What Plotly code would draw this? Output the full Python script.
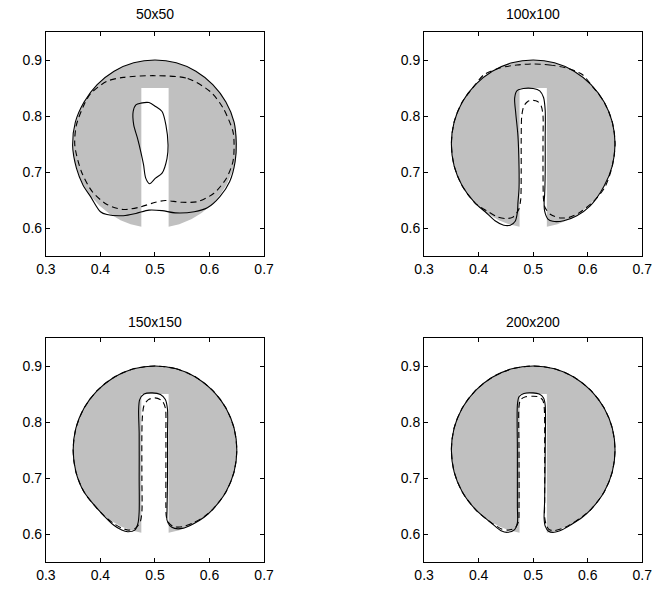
import numpy as np
import plotly.graph_objects as go

# ---------------- data ----------------
TITLES = ["50x50", "100x100", "150x150", "200x200"]
X_TICKS = [0.3, 0.4, 0.5, 0.6, 0.7]
Y_TICKS = [0.6, 0.7, 0.8, 0.9]
X_RANGE = [0.3, 0.7]
Y_RANGE = [0.55, 0.95]

# exact Zalesak disk (grey reference)
DISK_CENTER = (0.5, 0.75)
DISK_RADIUS = 0.15
SLOT_LEFT = 0.475
SLOT_RIGHT = 0.525
SLOT_TOP = 0.85

# contour points (closed curves)
ARC_TOP_RIGHT = [(0.500, 0.900), (0.539, 0.895), (0.575, 0.880), (0.606, 0.856),
                 (0.630, 0.825), (0.645, 0.789), (0.650, 0.750), (0.645, 0.711)]
ARC_LEFT_TOP = [(0.370, 0.675), (0.355, 0.711), (0.350, 0.750), (0.355, 0.789),
                (0.370, 0.825), (0.394, 0.856), (0.425, 0.880), (0.461, 0.895)]

P1_SOLID = [(0.500, 0.900), (0.539, 0.895), (0.575, 0.880), (0.606, 0.856),
            (0.630, 0.825), (0.645, 0.789), (0.649, 0.750), (0.647, 0.719),
            (0.637, 0.683), (0.619, 0.656), (0.596, 0.636), (0.572, 0.629),
            (0.537, 0.627), (0.513, 0.631), (0.489, 0.632), (0.465, 0.626),
            (0.442, 0.622), (0.412, 0.624), (0.400, 0.629), (0.382, 0.656),
            (0.368, 0.677), (0.356, 0.707), (0.349, 0.748), (0.354, 0.789),
            (0.370, 0.825), (0.394, 0.856), (0.425, 0.880), (0.461, 0.895)]
P1_ISLAND = [(0.474, 0.823), (0.489, 0.824), (0.501, 0.817), (0.513, 0.808),
             (0.520, 0.784), (0.524, 0.748), (0.522, 0.724), (0.513, 0.698),
             (0.501, 0.689), (0.490, 0.679), (0.483, 0.689), (0.479, 0.713),
             (0.474, 0.736), (0.468, 0.760), (0.461, 0.784), (0.460, 0.808),
             (0.465, 0.820)]
P1_DASHED = [(0.500, 0.872), (0.560, 0.867), (0.602, 0.843), (0.625, 0.814),
             (0.643, 0.772), (0.645, 0.748), (0.643, 0.719), (0.631, 0.689),
             (0.608, 0.662), (0.578, 0.647), (0.548, 0.646), (0.519, 0.649),
             (0.501, 0.646), (0.471, 0.637), (0.442, 0.633), (0.412, 0.642),
             (0.385, 0.665), (0.365, 0.701), (0.353, 0.748), (0.356, 0.784),
             (0.370, 0.820), (0.382, 0.840), (0.412, 0.862), (0.442, 0.869)]

P2_SOLID = ARC_TOP_RIGHT + [
    (0.630, 0.675), (0.604, 0.639), (0.580, 0.622), (0.556, 0.613), (0.536, 0.612),
    (0.527, 0.616), (0.521, 0.630), (0.520, 0.645), (0.521, 0.660), (0.522, 0.700),
    (0.522, 0.760), (0.522, 0.810), (0.519, 0.833), (0.512, 0.845), (0.500, 0.849),
    (0.482, 0.849), (0.470, 0.845), (0.466, 0.832), (0.468, 0.805), (0.472, 0.765),
    (0.474, 0.710), (0.474, 0.670), (0.472, 0.645), (0.471, 0.628), (0.467, 0.612),
    (0.458, 0.605), (0.446, 0.605), (0.430, 0.613), (0.412, 0.629), (0.394, 0.644)
] + ARC_LEFT_TOP
P2_DASHED = [(0.500, 0.893), (0.530, 0.891), (0.560, 0.886), (0.590, 0.874),
             (0.606, 0.856), (0.630, 0.825), (0.645, 0.789), (0.650, 0.750),
             (0.645, 0.711), (0.631, 0.672), (0.608, 0.645), (0.584, 0.627),
             (0.566, 0.619), (0.549, 0.618), (0.532, 0.624), (0.522, 0.636),
             (0.519, 0.650), (0.518, 0.700), (0.518, 0.760), (0.518, 0.800),
             (0.515, 0.817), (0.508, 0.826), (0.499, 0.828), (0.490, 0.826),
             (0.483, 0.818), (0.479, 0.800), (0.478, 0.760), (0.478, 0.700),
             (0.477, 0.650), (0.473, 0.632), (0.462, 0.619), (0.449, 0.617),
             (0.434, 0.620), (0.418, 0.629), (0.394, 0.644), (0.370, 0.675),
             (0.355, 0.711), (0.350, 0.750), (0.355, 0.789), (0.370, 0.825),
             (0.394, 0.856), (0.410, 0.874), (0.440, 0.886), (0.470, 0.891)]

P3_SOLID = ARC_TOP_RIGHT + [
    (0.630, 0.675), (0.606, 0.644), (0.590, 0.630), (0.570, 0.618), (0.550, 0.610),
    (0.536, 0.610), (0.527, 0.615), (0.522, 0.625), (0.522, 0.640), (0.523, 0.700),
    (0.523, 0.780), (0.523, 0.822), (0.519, 0.840), (0.510, 0.849), (0.495, 0.852),
    (0.480, 0.850), (0.472, 0.840), (0.470, 0.821), (0.471, 0.780), (0.471, 0.700),
    (0.471, 0.640), (0.469, 0.620), (0.463, 0.607), (0.450, 0.604), (0.439, 0.607),
    (0.424, 0.616), (0.404, 0.635)
] + ARC_LEFT_TOP
P3_DASHED = ARC_TOP_RIGHT + [
    (0.630, 0.675), (0.606, 0.644), (0.590, 0.631), (0.570, 0.620), (0.550, 0.613),
    (0.535, 0.613), (0.526, 0.619), (0.521, 0.630), (0.520, 0.650), (0.520, 0.700),
    (0.520, 0.780), (0.519, 0.825), (0.513, 0.838), (0.500, 0.843), (0.488, 0.840),
    (0.480, 0.830), (0.477, 0.810), (0.476, 0.780), (0.476, 0.700), (0.476, 0.640),
    (0.473, 0.622), (0.465, 0.611), (0.452, 0.607), (0.438, 0.611), (0.424, 0.619),
    (0.404, 0.635)
] + ARC_LEFT_TOP

P4_SOLID = ARC_TOP_RIGHT + [
    (0.630, 0.675), (0.606, 0.644), (0.590, 0.630), (0.570, 0.617), (0.554, 0.608),
    (0.538, 0.603), (0.528, 0.605), (0.522, 0.614), (0.520, 0.628), (0.521, 0.660),
    (0.522, 0.750), (0.522, 0.830), (0.519, 0.843), (0.511, 0.850), (0.500, 0.852),
    (0.483, 0.851), (0.474, 0.845), (0.471, 0.830), (0.471, 0.750), (0.471, 0.650),
    (0.471, 0.620), (0.466, 0.608), (0.453, 0.603), (0.441, 0.606), (0.430, 0.614),
    (0.415, 0.626), (0.394, 0.644)
] + ARC_LEFT_TOP
P4_DASHED = ARC_TOP_RIGHT + [
    (0.630, 0.675), (0.606, 0.644), (0.590, 0.631), (0.570, 0.618), (0.554, 0.610),
    (0.538, 0.606), (0.529, 0.608), (0.524, 0.616), (0.521, 0.630), (0.521, 0.660),
    (0.521, 0.750), (0.520, 0.828), (0.517, 0.840), (0.509, 0.845), (0.500, 0.846),
    (0.486, 0.845), (0.477, 0.840), (0.474, 0.828), (0.474, 0.750), (0.474, 0.650),
    (0.473, 0.622), (0.467, 0.611), (0.454, 0.607), (0.442, 0.609), (0.430, 0.616),
    (0.415, 0.626), (0.394, 0.644)
] + ARC_LEFT_TOP

PANELS = [
    {"solid": [P1_SOLID, P1_ISLAND], "dashed": [P1_DASHED]},
    {"solid": [P2_SOLID], "dashed": [P2_DASHED]},
    {"solid": [P3_SOLID], "dashed": [P3_DASHED]},
    {"solid": [P4_SOLID], "dashed": [P4_DASHED]},
]

# ---------------- layout geometry ----------------
W, H = 662, 590
COL_PX = [(37, 262), (427, 652)]
ROW_PX = [(32, 256), (338, 562)]
TITLE_PX = [14, 322]
GREY = "rgb(192,192,192)"
FONT = "Liberation Sans, Arial, Helvetica, sans-serif"


def disk_polygon():
    cx, cy = DISK_CENTER
    r = DISK_RADIUS
    yb = cy - np.sqrt(r ** 2 - (SLOT_RIGHT - cx) ** 2)
    a1 = np.arctan2(yb - cy, SLOT_RIGHT - cx)
    a2 = np.arctan2(yb - cy, SLOT_LEFT - cx) + 2 * np.pi
    ang = np.linspace(a1, a2, 400)
    xs = list(cx + r * np.cos(ang)) + [SLOT_LEFT, SLOT_LEFT, SLOT_RIGHT, SLOT_RIGHT]
    ys = list(cy + r * np.sin(ang)) + [yb, SLOT_TOP, SLOT_TOP, yb]
    return xs, ys


def closed(pts):
    xs = [p[0] for p in pts] + [pts[0][0]]
    ys = [p[1] for p in pts] + [pts[0][1]]
    return xs, ys


fig = go.Figure()
dx, dy = disk_polygon()
annotations = []
for i, panel in enumerate(PANELS):
    row, col = divmod(i, 2)
    sfx = "" if i == 0 else str(i + 1)
    xref, yref = "x" + sfx, "y" + sfx
    fig.add_trace(go.Scatter(x=dx, y=dy, mode="lines", fill="toself",
                             fillcolor=GREY, line=dict(width=0, color=GREY),
                             xaxis=xref, yaxis=yref, hoverinfo="skip",
                             showlegend=False))
    for c in panel["dashed"]:
        cx_, cy_ = closed(c)
        fig.add_trace(go.Scatter(x=cx_, y=cy_, mode="lines",
                                 line=dict(color="black", width=1.1, dash="6px,4px",
                                           shape="spline", smoothing=0.8),
                                 xaxis=xref, yaxis=yref, showlegend=False))
    for c in panel["solid"]:
        cx_, cy_ = closed(c)
        fig.add_trace(go.Scatter(x=cx_, y=cy_, mode="lines",
                                 line=dict(color="black", width=1.1,
                                           shape="spline", smoothing=0.8),
                                 xaxis=xref, yaxis=yref, showlegend=False))
    x0, x1 = COL_PX[col]
    y0, y1 = ROW_PX[row]
    axis_common = dict(ticks="inside", ticklen=4, tickcolor="black",
                       showline=True, linecolor="black", linewidth=1,
                       mirror="ticks", showgrid=False, zeroline=False,
                       tickfont=dict(family=FONT, size=14, color="black"),
                       fixedrange=True)
    fig.layout["xaxis" + sfx] = dict(
        domain=[x0 / W, x1 / W], range=X_RANGE, anchor=yref,
        tickvals=X_TICKS, ticktext=[f"{v:.1f}" for v in X_TICKS], **axis_common)
    fig.layout["yaxis" + sfx] = dict(
        domain=[1 - y1 / H, 1 - y0 / H], range=Y_RANGE, anchor=xref,
        tickvals=Y_TICKS, ticktext=[f"{v:.1f}" for v in Y_TICKS], **axis_common)
    annotations.append(dict(text=TITLES[i], x=(x0 + x1) / 2 / W, y=1 - TITLE_PX[row] / H,
                            xref="paper", yref="paper", showarrow=False,
                            xanchor="center", yanchor="middle",
                            font=dict(family=FONT, size=14, color="black")))

fig.update_layout(width=W, height=H, margin=dict(l=0, r=0, t=0, b=0),
                  paper_bgcolor="white", plot_bgcolor="white",
                  annotations=annotations, showlegend=False)
fig.write_html("out.html", config={"displayModeBar": False},
               post_script="document.body.style.margin='0px';")
